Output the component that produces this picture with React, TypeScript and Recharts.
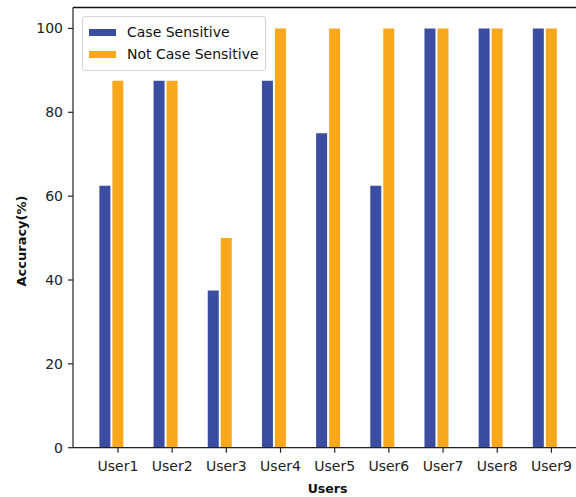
import React from 'react';
import { BarChart, Bar, XAxis, YAxis, Label, ReferenceLine } from 'recharts';

const users = ['User1', 'User2', 'User3', 'User4', 'User5', 'User6', 'User7', 'User8', 'User9'];
const caseSensitive = [62.5, 87.5, 37.5, 87.5, 75, 62.5, 100, 100, 100];
const notCaseSensitive = [87.5, 87.5, 50, 100, 100, 100, 100, 100, 100];
const yTicks = [0, 20, 40, 60, 80, 100];
const yMax = 105;

const BLUE = '#3A4DA0';
const ORANGE = '#F9A81E';
const FONT = '"DejaVu Sans", sans-serif';

const data = users.map((u, i) => ({
  name: u,
  cs: caseSensitive[i],
  ncs: notCaseSensitive[i],
}));

// matplotlib put the tick under the second bar, so shift ticks by half a bar
const SHIFT = 6.5;

const UserTick = (props: any) => {
  const { x, y, payload } = props;
  const tx = x + SHIFT;
  return (
    <g>
      <line x1={tx} x2={tx} y1={y - 12} y2={y - 7} stroke="#222" strokeWidth={1.2} />
      <text x={tx} y={y + 1.5} dy="0.71em" textAnchor="middle" fontSize={14} fill="#222" fontFamily={FONT}>
        {payload.value}
      </text>
    </g>
  );
};

export default function App() {
  return (
    <div style={{ position: 'absolute', left: 0, top: 0, width: 576, height: 497, overflow: 'hidden', background: '#fff' }}>
      <BarChart
        width={600}
        height={497}
        data={data}
        margin={{ top: 7.5, right: 16.6, left: 0, bottom: 0 }}
        barGap={2}
        barSize={11}
      >
        <XAxis
          xAxisId="main"
          dataKey="name"
          height={49.3}
          padding={{ left: 11.4, right: 11.4 }}
          axisLine={{ stroke: '#222', strokeWidth: 1.2 }}
          tickLine={{ stroke: 'transparent' }}
          tickSize={5}
          tickMargin={7}
          tick={<UserTick />}
          interval={0}
        >
          <Label
            content={() => (
              <text x={327.5} y={493} textAnchor="middle" fontSize={12.5} fontWeight="bold" fill="#111" fontFamily={FONT}>
                Users
              </text>
            )}
          />
        </XAxis>
        <YAxis
          width={73}
          domain={[0, yMax]}
          ticks={yTicks}
          allowDataOverflow
          axisLine={{ stroke: '#222', strokeWidth: 1.2 }}
          tickLine={{ stroke: '#222', strokeWidth: 1.2 }}
          tickSize={5}
          tickMargin={5}
          tick={{ fontSize: 14, fill: '#222', fontFamily: FONT }}
        >
          <Label
            content={() => (
              <text
                transform="translate(26,241) rotate(-90)"
                textAnchor="middle"
                fontSize={13}
                fontWeight="bold"
                fill="#111"
                fontFamily={FONT}
              >
                Accuracy(%)
              </text>
            )}
          />
        </YAxis>
        <ReferenceLine xAxisId="main" y={yMax} stroke="#111" strokeWidth={1.6} ifOverflow="extendDomain" />
        <Bar xAxisId="main" dataKey="cs" name="Case Sensitive" fill={BLUE} isAnimationActive={false} />
        <Bar xAxisId="main" dataKey="ncs" name="Not Case Sensitive" fill={ORANGE} isAnimationActive={false} />
      </BarChart>
      <div
        style={{
          position: 'absolute',
          left: 82,
          top: 16,
          width: 184,
          height: 55,
          boxSizing: 'border-box',
          border: '1px solid #d4d4d4',
          borderRadius: 3,
          background: 'rgba(255,255,255,0.85)',
          fontFamily: FONT,
          fontSize: 14,
          color: '#111',
        }}
      >
        {[
          { label: 'Case Sensitive', color: BLUE },
          { label: 'Not Case Sensitive', color: ORANGE },
        ].map((item, i) => (
          <div key={item.label} style={{ position: 'absolute', left: 6, top: 6 + i * 22, height: 18, display: 'flex', alignItems: 'center' }}>
            <span style={{ display: 'inline-block', width: 27, height: 7, background: item.color, marginRight: 11 }} />
            <span style={{ whiteSpace: 'nowrap', lineHeight: '18px' }}>{item.label}</span>
          </div>
        ))}
      </div>
    </div>
  );
}
